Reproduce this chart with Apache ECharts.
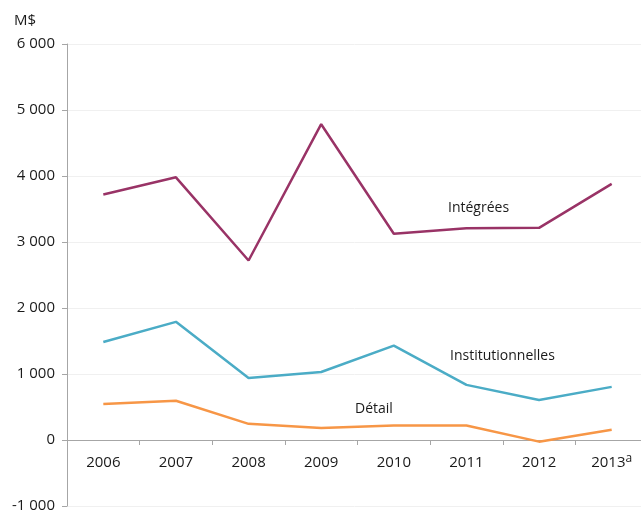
<!DOCTYPE html>
<html>
<head>
<meta charset="utf-8">
<script src="https://cdn.jsdelivr.net/npm/echarts@6/dist/echarts.min.js"></script>
<style>
  html, body { margin: 0; padding: 0; background: #fff; }
  #chart { width: 641px; height: 512px; }
</style>
</head>
<body>
<div id="chart"></div>
<script>
// data
const years = ['2006', '2007', '2008', '2009', '2010', '2011', '2012', '2013'];
const integrees = [3720, 3980, 2720, 4785, 3125, 3210, 3215, 3880];
const institutionnelles = [1485, 1790, 940, 1030, 1430, 835, 605, 805];
const detail = [545, 595, 245, 180, 220, 220, -25, 155];

const chart = echarts.init(document.getElementById('chart'));
const font = '"Open Sans", "Noto Sans", sans-serif';

// thousands with a space, like "6 000"
const fmt = v => {
  const s = Math.abs(v).toString().replace(/\B(?=(\d{3})+(?!\d))/g, ' ');
  return (v < 0 ? '-' : '') + s;
};

const lineSeries = (name, data, color) => ({
  name: name,
  type: 'line',
  data: data,
  symbol: 'none',
  lineStyle: { color: color, width: 2.5 },
  itemStyle: { color: color }
});

const option = {
  animation: false,
  grid: { left: 67, right: -7, top: 44, bottom: 6, outerBoundsMode: 'none', containLabel: false },
  xAxis: [
    {
      // axis line + ticks at zero
      type: 'category',
      data: years,
      axisLine: { onZero: true, lineStyle: { color: '#a6a6a6', width: 1 } },
      axisTick: { show: true, length: 5, lineStyle: { color: '#a6a6a6' } },
      axisLabel: { show: false },
      splitLine: { show: false }
    },
    {
      // labels only, pulled up under the zero line
      type: 'category',
      data: years,
      position: 'bottom',
      offset: -66,
      axisLine: { show: false },
      axisTick: { show: false },
      axisLabel: {
        interval: 0,
        margin: 13,
        fontSize: 15,
        fontFamily: font,
        color: '#1a1a1a',
        formatter: v => v === '2013' ? '{base|2013}{sup|a}' : '{base|' + v + '}',
        rich: {
          base: { fontSize: 15, fontFamily: font, color: '#1a1a1a', lineHeight: 20, verticalAlign: 'middle' },
          sup: { fontSize: 12, fontFamily: font, color: '#1a1a1a', lineHeight: 12, verticalAlign: 'top' }
        }
      },
      splitLine: { show: false }
    }
  ],
  yAxis: {
    type: 'value',
    min: -1000,
    max: 6000,
    interval: 1000,
    axisLine: { show: true, lineStyle: { color: '#a6a6a6', width: 1 } },
    axisTick: { show: true, length: 5, lineStyle: { color: '#a6a6a6' } },
    axisLabel: {
      margin: 12,
      fontSize: 15,
      fontFamily: font,
      color: '#1a1a1a',
      formatter: fmt
    },
    splitLine: { show: true, lineStyle: { color: '#f0f0f0', width: 1 } }
  },
  series: [
    lineSeries('Intégrées', integrees, '#993366'),
    lineSeries('Institutionnelles', institutionnelles, '#4bacc6'),
    lineSeries('Détail', detail, '#f79646')
  ],
  graphic: [
    { type: 'text', left: 14, top: 13, style: { text: 'M$', fontSize: 15, fontFamily: font, fill: '#1a1a1a' } },
    { type: 'text', left: 448, top: 201, style: { text: 'Intégrées', fontSize: 14, fontFamily: font, fill: '#1a1a1a' } },
    { type: 'text', left: 450, top: 349, style: { text: 'Institutionnelles', fontSize: 14, fontFamily: font, fill: '#1a1a1a' } },
    { type: 'text', left: 355, top: 402, style: { text: 'Détail', fontSize: 14, fontFamily: font, fill: '#1a1a1a' } }
  ]
};

chart.setOption(option);
</script>
</body>
</html>
